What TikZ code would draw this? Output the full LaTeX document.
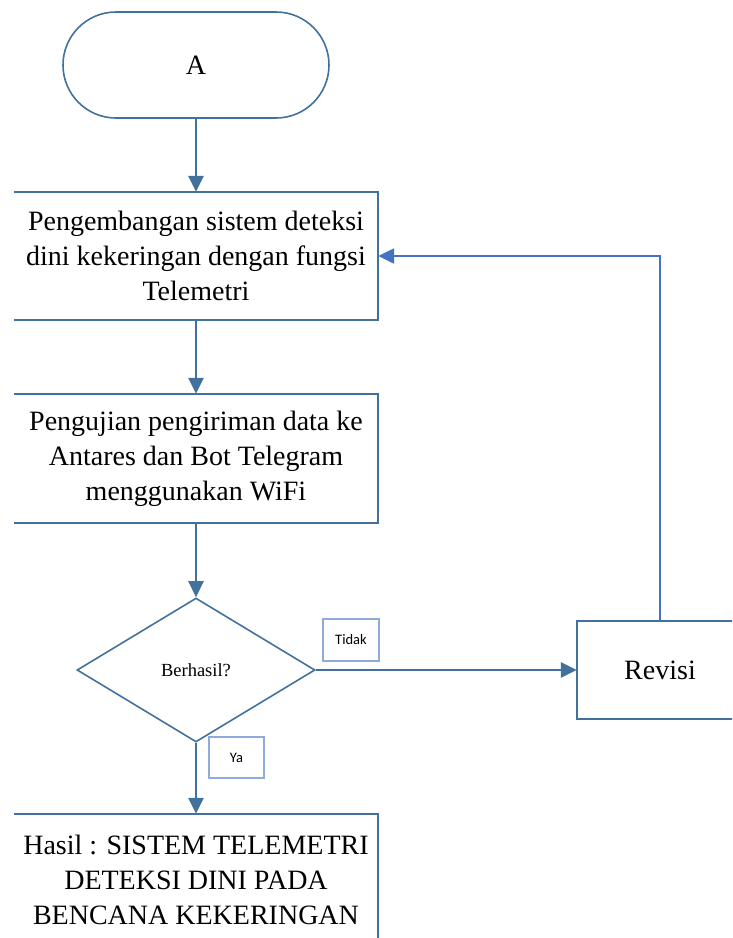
\documentclass[tikz,border=0pt]{standalone}
\usepackage{fontspec}
\setmainfont{Liberation Serif}
\newfontfamily\notefont{Carlito}
\usetikzlibrary{arrows.meta,shapes.geometric}
\definecolor{flowblue}{HTML}{41719C}
\definecolor{loopblue}{HTML}{4472C4}
\definecolor{noteblue}{HTML}{8FAADC}

\begin{document}
\begin{tikzpicture}[x=1pt, y=-1pt,
  term/.style={rectangle, draw=flowblue, line width=1.6pt, rounded corners=53pt,
               minimum width=266pt, minimum height=106pt,
               font=\fontsize{28}{34}\selectfont},
  proc/.style={rectangle, minimum width=364pt, align=center, inner sep=0pt,
               font=\fontsize{28}{35}\selectfont},
  cond/.style={diamond, draw=flowblue, line width=1.6pt, minimum width=238pt,
               minimum height=144pt, inner sep=0pt,
               font=\fontsize{18.5}{22}\selectfont},
  note/.style={rectangle, draw=noteblue, line width=1.6pt, inner sep=0pt,
               font=\notefont\fontsize{14.5}{16}\selectfont},
  rim/.style={flowblue, line width=1.6pt},
  arr/.style={-{Triangle[width=15pt,length=16pt]}, flowblue, line width=2.6pt}
]
  \useasboundingbox (0,0) rectangle (732,938);
  \clip (0,0) rectangle (732,938);

  % Start
  \node[term] (start) at (196,65) {A};

  % Development
  \node[proc, minimum height=128pt] (dev) at (196,256)
    {Pengembangan sistem deteksi\\dini kekeringan dengan fungsi\\Telemetri};
  \draw[rim] (dev.north west) -- (dev.north east) -- (dev.south east) -- (dev.south west);

  % Testing
  \node[proc, minimum height=129pt] (test) at (196,458.5)
    {Pengujian pengiriman data ke\\Antares dan Bot Telegram\\menggunakan WiFi};
  \draw[rim] (test.north west) -- (test.north east) -- (test.south east) -- (test.south west);

  % Decision
  \node[cond] (check) at (196,670) {Berhasil?};
  \node[note, minimum width=56pt, minimum height=42pt] (no) at (351,640) {Tidak};
  \node[note, minimum width=55pt, minimum height=41pt] (yes) at (236.5,757.5) {Ya};

  % Revision
  \node[proc, minimum width=166pt, minimum height=98pt] (rev) at (660,670) {Revisi};
  \draw[rim] (rev.north east) -- (rev.north west) -- (rev.south west) -- (rev.south east);

  % Result
  \node[proc, minimum height=132pt] (res) at (196,880)
    {Hasil : SISTEM TELEMETRI\\DETEKSI DINI PADA\\BENCANA KEKERINGAN};
  \draw[rim] (res.north west) -- (res.north east) -- (res.south east);

  % Flow
  \draw[arr] (start) -- (dev);
  \draw[arr] (dev) -- (test);
  \draw[arr] (test) -- (check);
  \draw[arr] (check) -- (rev);
  \draw[arr] (check) -- (res);
  \draw[arr, loopblue, line width=2.4pt] (rev.north) |- (dev.east);
\end{tikzpicture}
\end{document}
